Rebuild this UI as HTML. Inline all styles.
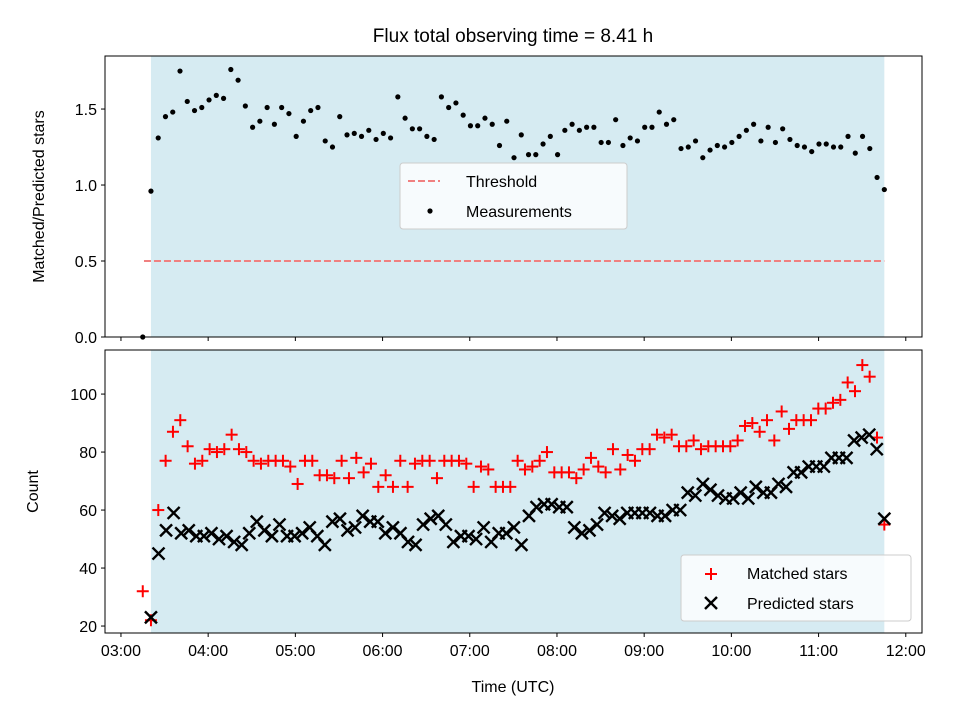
<!DOCTYPE html>
<html><head><meta charset="utf-8"><style>
html,body{margin:0;padding:0;background:#fff}
svg{font-family:"Liberation Sans","DejaVu Sans",sans-serif}
</style></head><body>
<svg id="c" width="960" height="720" viewBox="0 0 960 720" xmlns="http://www.w3.org/2000/svg">
<text x="513" y="42" font-size="19" text-anchor="middle">Flux total observing time = 8.41 h</text>
<g id="topPanel"></g>
<g id="botPanel"></g>
</svg>
<script>
const startHour = 3.344, spanHours = 8.41;
const firstTime = 3.25, firstRatio = 0.0, firstMatched = 32;
const ratioValues = [0.96,1.31,1.45,1.48,1.75,1.55,1.49,1.51,1.56,1.59,1.57,1.76,1.69,1.52,1.38,1.42,1.51,1.40,1.51,1.47,1.32,1.42,1.49,1.51,1.29,1.25,1.45,1.33,1.34,1.32,1.36,1.30,1.34,1.31,1.58,1.44,1.37,1.37,1.32,1.30,1.58,1.51,1.54,1.46,1.39,1.39,1.44,1.40,1.26,1.42,1.18,1.33,1.20,1.20,1.27,1.32,1.20,1.36,1.40,1.36,1.38,1.38,1.28,1.28,1.43,1.26,1.31,1.29,1.38,1.38,1.48,1.40,1.43,1.24,1.25,1.29,1.18,1.23,1.26,1.25,1.28,1.32,1.36,1.40,1.29,1.38,1.28,1.37,1.30,1.26,1.25,1.22,1.27,1.27,1.25,1.25,1.32,1.21,1.32,1.24,1.05,0.97];
const matchedValues = [22,60,77,87,91,82,76,77,81,80,81,86,81,80,77,76,77,77,77,75,69,77,77,72,72,71,77,71,78,73,76,68,72,68,77,68,76,77,77,71,77,77,77,76,68,75,74,68,68,68,77,74,75,77,80,73,73,73,71,74,78,75,73,81,74,79,77,81,81,86,85,86,82,82,84,81,82,82,82,82,84,89,90,87,91,84,94,88,91,91,91,95,95,97,98,104,101,110,106,85,55];
const predictedValues = [23,45,53,59,52,53,51,51,52,50,51,49,48,52,56,53,51,55,51,51,52,54,51,48,56,57,53,54,58,56,56,52,54,52,49,48,55,57,58,55,49,51,51,50,54,49,52,52,54,48,58,61,62,62,61,61,54,52,53,55,59,58,57,59,59,59,59,58,58,60,60,66,65,69,67,65,64,64,66,64,68,66,66,69,68,73,73,75,75,75,78,78,78,84,85,86,81,57];
const xTicks = [3,4,5,6,7,8,9,10,11,12];
const xTickLabels = ["03:00","04:00","05:00","06:00","07:00","08:00","09:00","10:00","11:00","12:00"];
const ratioTicks = [0.0,0.5,1.0,1.5];
const countTicks = [20,40,60,80,100];
const threshold = 0.5;

const NS="http://www.w3.org/2000/svg";
const X0=105,X1=922, TMIN=2.817, TMAX=12.186;
const xs=t=>X0+(t-TMIN)/(TMAX-TMIN)*(X1-X0);
const T0=56,T1=337, RMIN=0, RMAX=1.849;
const yr=v=>T1-(v-RMIN)/(RMAX-RMIN)*(T1-T0);
const B0=350,B1=633, CMIN=17.6, CMAX=115.2;
const yc=v=>B1-(v-CMIN)/(CMAX-CMIN)*(B1-B0);
const timeAt=(i,n)=>startHour+i*spanHours/(n-1);
function mk(tag,attrs,parent,text){const e=document.createElementNS(NS,tag);for(const k in attrs)e.setAttribute(k,attrs[k]);if(text!==undefined)e.textContent=text;parent.appendChild(e);return e;}
const topG=document.getElementById('topPanel'), botG=document.getElementById('botPanel');
const tEnd=startHour+spanHours;

function panel(g,yA,yB,ticks,yf,fmt,labelText,labelX,showX){
  const r=mk('rect',{x:xs(startHour),y:yA,width:xs(tEnd)-xs(startHour),height:yB-yA,fill:'#add8e6','fill-opacity':0.5},g);
  
  
  ticks.forEach(v=>{
    const l=mk('line',{x1:X0,x2:X0-4,y1:yf(v),y2:yf(v),stroke:'#000','stroke-width':1},g);
    
    
    const t=mk('text',{x:X0-8,y:yf(v)+6,'font-size':16,'text-anchor':'end'},g,fmt(v));
    
    
  });
  xTicks.forEach((v,i)=>{
    const l=mk('line',{x1:xs(v),x2:xs(v),y1:yB,y2:yB+4,stroke:'#000','stroke-width':1},g);
    
    
    if(showX){const t=mk('text',{x:xs(v),y:yB+23,'font-size':16,'text-anchor':'middle'},g,xTickLabels[i]);
    
    }
  });
  const yl=mk('text',{x:labelX,y:(yA+yB)/2,'font-size':16,'text-anchor':'middle',transform:`rotate(-90 ${labelX} ${(yA+yB)/2})`},g,labelText);
  
  
}
panel(topG,T0,T1,ratioTicks,yr,v=>v.toFixed(1),'Matched/Predicted stars',44,false);
panel(botG,B0,B1,countTicks,yc,v=>String(v),'Count',38,true);

const th=mk('line',{x1:xs(startHour-0.08),x2:xs(tEnd),y1:yr(threshold),y2:yr(threshold),stroke:'#f08080','stroke-width':2,'stroke-dasharray':'7,3'},topG);


const p0=mk('circle',{cx:xs(firstTime),cy:yr(firstRatio),r:2.6,fill:'#000'},topG);


ratioValues.forEach((v,i)=>{
  const c=mk('circle',{cx:xs(timeAt(i,ratioValues.length)),cy:yr(v),r:2.6,fill:'#000'},topG);
  
  
});
function plus(cx,cy,parent){const g=mk('g',{stroke:'#f00','stroke-width':2},parent);
  
  
  mk('line',{x1:cx-6,x2:cx+6,y1:cy,y2:cy},g);mk('line',{x1:cx,x2:cx,y1:cy-6,y2:cy+6},g);}
function cross(cx,cy,parent){const g=mk('g',{stroke:'#000','stroke-width':2.4},parent);
  
  
  mk('line',{x1:cx-6,x2:cx+6,y1:cy-6,y2:cy+6},g);mk('line',{x1:cx-6,x2:cx+6,y1:cy+6,y2:cy-6},g);}
plus(xs(firstTime),yc(firstMatched),botG);
matchedValues.forEach((v,i)=>plus(xs(timeAt(i,matchedValues.length)),yc(v),botG));
predictedValues.forEach((v,i)=>cross(xs(timeAt(i,predictedValues.length)),yc(v),botG));

[[T0,T1,topG],[B0,B1,botG]].forEach(([a,b,g])=>{
  const f=mk('rect',{x:X0,y:a,width:X1-X0,height:b-a,fill:'none',stroke:'#000','stroke-width':1},g);
  
  
});
const xl=mk('text',{x:513,y:692,'font-size':16,'text-anchor':'middle'},botG,'Time (UTC)');



const lg1=mk('g',{},topG);


mk('rect',{x:400,y:163,width:227,height:66,rx:3,fill:'#fff','fill-opacity':0.8,stroke:'#ccc'},lg1);
mk('line',{x1:408,x2:440,y1:181,y2:181,stroke:'#f08080','stroke-width':2,'stroke-dasharray':'7,3'},lg1);
mk('text',{x:466,y:187,'font-size':16},lg1,'Threshold');
mk('circle',{cx:430,cy:211,r:2.6,fill:'#000'},lg1);
mk('text',{x:466,y:217,'font-size':16},lg1,'Measurements');
const lg2=mk('g',{},botG);


mk('rect',{x:681,y:555,width:230,height:66,rx:3,fill:'#fff','fill-opacity':0.8,stroke:'#ccc'},lg2);
mk('text',{x:747,y:579,'font-size':16},lg2,'Matched stars');
mk('text',{x:747,y:609,'font-size':16},lg2,'Predicted stars');
plus(711,574,lg2);cross(711,603,lg2);
</script>
</body></html>
